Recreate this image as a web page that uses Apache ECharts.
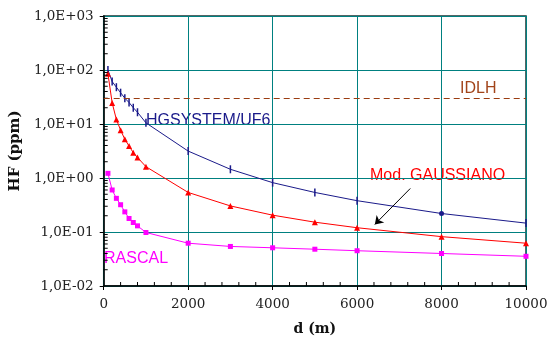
<!DOCTYPE html>
<html><head><meta charset="utf-8">
<script src="https://cdn.jsdelivr.net/npm/echarts@6/dist/echarts.min.js"></script>
<style>html,body{margin:0;padding:0;background:#fff}#c{width:552px;height:343px}</style>
</head><body><div id="c"></div>
<script>
// Distances (m)
const distances = [100, 200, 300, 400, 500, 600, 700, 800, 1000, 2000, 3000, 4000, 5000, 6000, 8000, 10000];
// HF concentration (ppm) per model
const hgsystem  = [100, 61, 48, 38, 30, 25, 20, 16.5, 10.5, 3.15, 1.45, 0.82, 0.54, 0.38, 0.22, 0.146];
const gaussiano = [85, 24.6, 12.1, 7.7, 5.2, 3.9, 2.95, 2.4, 1.62, 0.54, 0.304, 0.205, 0.152, 0.12, 0.082, 0.062];
const rascal    = [1.22, 0.60, 0.42, 0.32, 0.236, 0.178, 0.15, 0.13, 0.098, 0.062, 0.054, 0.051, 0.048, 0.045, 0.040, 0.0355];
const idlh = 30;
// Arrow annotation (data coords: from, to)
const arrowFrom = [7260, 0.64];
const arrowTo = [6420, 0.138];
// Axis ranges
const xTicks = [0, 2000, 4000, 6000, 8000, 10000];
const yTicks = [0.01, 0.1, 1, 10, 100, 1000];
const minorY = [];
for (let k = 0; k < yTicks.length - 1; k++) for (let m = 2; m <= 9; m++) minorY.push(+(m * yTicks[k]).toPrecision(3));
const minorX = [];
for (let k = 0; k < xTicks.length - 1; k++) for (let m = 1; m <= 4; m++) minorX.push(xTicks[k] + m * 400);

function sci(v) {
  const e = Math.round(Math.log10(v));
  return '1,0E' + (e < 0 ? '-' : '+') + String(Math.abs(e)).padStart(2, '0');
}

const serif = '"DejaVu Serif", serif';
const sans = '"Liberation Sans", Arial, sans-serif';
const teal = '#008080';

const chart = echarts.init(document.getElementById('c'), null, {renderer: 'canvas'});
chart.setOption({
  animation: false,
  backgroundColor: '#fff',
  grid: {left: 101, right: 26, top: 16, bottom: 57, show: true, borderColor: '#1d3535', borderWidth: 1.5, containLabel: false},
  xAxis: {
    type: 'value', min: xTicks[0], max: xTicks[xTicks.length - 1], interval: 2000,
    name: 'd (m)', nameLocation: 'middle', nameGap: 36,
    nameTextStyle: {fontFamily: serif, fontWeight: 'bold', fontSize: 14, color: '#111'},
    axisLine: {show: true, lineStyle: {color: '#000', width: 1.5}},
    axisTick: {show: true, inside: false, length: 4, lineStyle: {color: '#000'}},
    axisLabel: {fontFamily: serif, fontSize: 13.5, color: '#222', margin: 11, formatter: v => String(v)},
    splitLine: {show: true, lineStyle: {color: teal, width: 1}}
  },
  yAxis: {
    type: 'log', logBase: 10, min: yTicks[0], max: yTicks[yTicks.length - 1],
    name: 'HF (ppm)', nameLocation: 'middle', nameGap: 76,
    nameTextStyle: {fontFamily: serif, fontWeight: 'bold', fontSize: 15, color: '#111'},
    axisLine: {show: true, lineStyle: {color: '#000', width: 1.5}},
    axisTick: {show: true, inside: false, length: 4, lineStyle: {color: '#000'}},
    axisLabel: {fontFamily: serif, fontSize: 13.5, color: '#222', margin: 10, formatter: sci},
    splitLine: {show: true, lineStyle: {color: teal, width: 1}}
  },
  series: [
    {
      name: 'HGSYSTEM/UF6', type: 'line',
      data: distances.map((d, i) => d === 8000
        ? {value: [d, hgsystem[i]], symbol: 'circle', symbolSize: 5}
        : [d, hgsystem[i]]),
      symbol: 'rect', symbolSize: [1.5, 8],
      lineStyle: {color: '#1a1a8a', width: 1}, itemStyle: {color: '#1a1a8a'},
      markLine: {
        silent: true, symbol: ['none', 'none'], label: {show: false},
        lineStyle: {color: '#9a3d12', type: [6, 4], width: 1},
        data: [{yAxis: idlh}]
      },
      z: 3
    },
    {
      name: 'Mod. GAUSSIANO', type: 'line',
      data: distances.map((d, i) => [d, gaussiano[i]]),
      symbol: 'triangle', symbolSize: 6,
      lineStyle: {color: '#ff0000', width: 1}, itemStyle: {color: '#ff0000'},
      markLine: {
        silent: true, symbol: ['none', 'arrow'], symbolSize: 8, label: {show: false},
        lineStyle: {color: '#000', type: 'solid', width: 1},
        data: [[{coord: arrowFrom}, {coord: arrowTo}]]
      },
      z: 3
    },
    {
      name: 'RASCAL', type: 'line',
      data: distances.map((d, i) => [d, rascal[i]]),
      symbol: 'rect', symbolSize: 5,
      lineStyle: {color: '#ff00ff', width: 1}, itemStyle: {color: '#ff00ff'},
      z: 3
    },
    {
      name: 'minorY', type: 'custom', silent: true, clip: false,
      data: minorY.map(v => [0, v]),
      renderItem: (params, api) => {
        const p = api.coord([0, api.value(1)]);
        return {type: 'line', shape: {x1: p[0], y1: p[1], x2: p[0] + 4, y2: p[1]}, style: {stroke: '#000', lineWidth: 1}};
      },
      z: 4
    },
    {
      name: 'minorX', type: 'custom', silent: true, clip: false,
      data: minorX.map(v => [v, yTicks[0]]),
      renderItem: (params, api) => {
        const p = api.coord([api.value(0), yTicks[0]]);
        return {type: 'line', shape: {x1: p[0], y1: p[1], x2: p[0], y2: p[1] - 4}, style: {stroke: '#000', lineWidth: 1}};
      },
      z: 4
    }
  ],
  graphic: [
    {type: 'text', left: 460, top: 81, style: {text: 'IDLH', font: '16px ' + sans, fill: '#a2441a'}},
    {type: 'text', left: 146, top: 113, style: {text: 'HGSYSTEM/UF6', font: '16px ' + sans, fill: '#1a1a8a'}},
    {type: 'text', left: 370, top: 168, style: {text: 'Mod. GAUSSIANO', font: '16px ' + sans, fill: '#ff0000'}},
    {type: 'text', left: 104, top: 251, style: {text: 'RASCAL', font: '16px ' + sans, fill: '#ff00ff'}}
  ]
});
</script></body></html>
